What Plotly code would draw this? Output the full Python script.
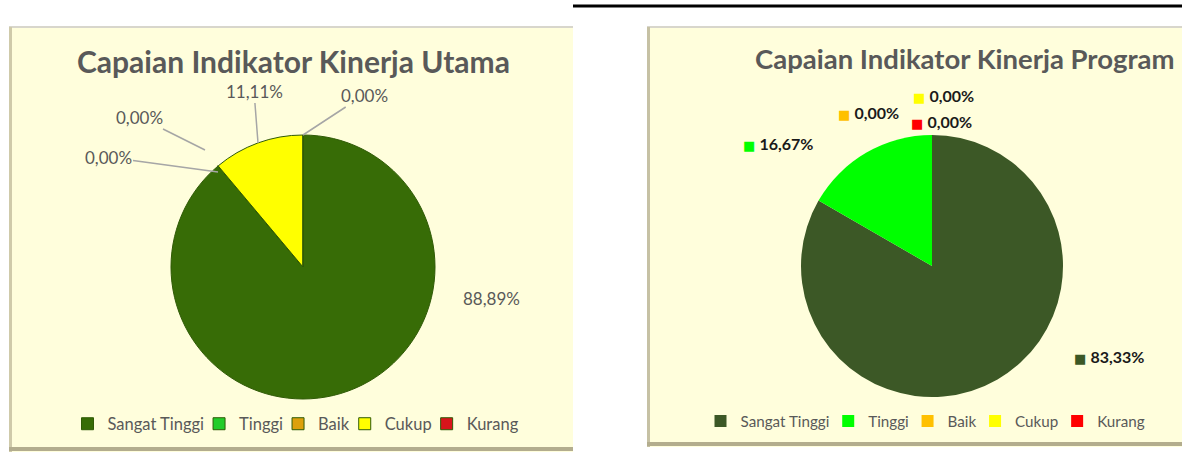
import plotly.graph_objects as go

W, H = 1182, 464

categories = ["Sangat Tinggi", "Tinggi", "Baik", "Cukup", "Kurang"]
iku_values = [88.89, 0.0, 0.0, 11.11, 0.0]
ikp_values = [83.33, 16.67, 0.0, 0.0, 0.0]
iku_colors = ["#376C06", "#22CC2A", "#DDA00C", "#FFFF00", "#D8141B"]
ikp_colors = ["#3C5826", "#00FF00", "#FFC000", "#FFFF00", "#FF0000"]
titles = ["Capaian Indikator Kinerja Utama", "Capaian Indikator Kinerja Program"]

FONT = "Lato, 'Open Sans', sans-serif"
GREY = "#595959"
PANEL = "#FFFEDC"


def px(x):
    return x / W


def py(y):
    return 1 - y / H


def fmt(v):
    return f"{v:.2f}".replace(".", ",") + "%"


fig = go.Figure()

# Left pie (IKU)
fig.add_trace(go.Pie(
    labels=categories, values=iku_values, sort=False, direction="clockwise",
    rotation=0, textinfo="none", hole=0,
    marker=dict(colors=iku_colors, line=dict(color="#2F5A06", width=1)),
    domain=dict(x=[px(171), px(435)], y=[py(399), py(135)]),
    legend="legend", name="IKU",
))
# Right pie (IKP) - labels carry a trailing space so they get their own legend entries
fig.add_trace(go.Pie(
    labels=[c + " " for c in categories], values=ikp_values, sort=False,
    direction="clockwise", rotation=0, textinfo="none", hole=0,
    marker=dict(colors=ikp_colors, line=dict(width=0)),
    domain=dict(x=[px(801), px(1063)], y=[py(397), py(135)]),
    legend="legend2", name="IKP",
))

shapes = []
# Top black rule
shapes.append(dict(type="line", xref="paper", yref="paper", x0=px(573), x1=px(1182),
                   y0=py(6), y1=py(6), line=dict(color="black", width=3), layer="below"))
# Left panel
shapes.append(dict(type="rect", xref="paper", yref="paper", x0=px(9), x1=px(573),
                   y0=py(452), y1=py(26), fillcolor=PANEL, line=dict(width=0), layer="below"))
shapes.append(dict(type="line", xref="paper", yref="paper", x0=px(9), x1=px(573),
                   y0=py(27), y1=py(27), line=dict(color="#D8D6CC", width=2), layer="below"))
shapes.append(dict(type="line", xref="paper", yref="paper", x0=px(10.5), x1=px(10.5),
                   y0=py(27), y1=py(452), line=dict(color="#CFCAAA", width=3), layer="below"))
shapes.append(dict(type="line", xref="paper", yref="paper", x0=px(9), x1=px(573),
                   y0=py(449), y1=py(449), line=dict(color="#B3AD8E", width=4), layer="below"))
# Right panel
shapes.append(dict(type="rect", xref="paper", yref="paper", x0=px(647), x1=px(1182),
                   y0=py(447), y1=py(26), fillcolor=PANEL, line=dict(width=0), layer="below"))
shapes.append(dict(type="line", xref="paper", yref="paper", x0=px(647), x1=px(1182),
                   y0=py(27), y1=py(27), line=dict(color="#D8D6CC", width=2), layer="below"))
shapes.append(dict(type="line", xref="paper", yref="paper", x0=px(648.5), x1=px(648.5),
                   y0=py(27), y1=py(447), line=dict(color="#C6C1A4", width=3), layer="below"))
shapes.append(dict(type="line", xref="paper", yref="paper", x0=px(647), x1=px(1182),
                   y0=py(444), y1=py(444), line=dict(color="#B3AD8E", width=4), layer="below"))

ann = []
# Titles
ann.append(dict(text=f"<b>{titles[0]}</b>", x=px(293), y=py(61), xref="paper", yref="paper",
                showarrow=False, font=dict(family=FONT, size=30, color=GREY),
                xanchor="center", yanchor="middle"))
ann.append(dict(text=f"<b>{titles[1]}</b>", x=px(965), y=py(58), xref="paper", yref="paper",
                showarrow=False, font=dict(family=FONT, size=27.5, color=GREY),
                xanchor="center", yanchor="middle"))

# Left data labels (with leader lines)
lab_font = dict(family=FONT, size=17, color=GREY)
left_label_pos = {
    0: ((491, 298), None),
    1: ((108, 157), (218, 172)),
    2: ((139, 117), (205, 150)),
    3: ((254, 91), (258, 143)),
    4: ((364, 95), (303, 135)),
}
for i, ((tx, ty), target) in left_label_pos.items():
    if target is None:
        ann.append(dict(text=fmt(iku_values[i]), x=px(tx), y=py(ty), xref="paper", yref="paper",
                        showarrow=False, font=lab_font, xanchor="center", yanchor="middle"))
    else:
        ann.append(dict(text=fmt(iku_values[i]), x=px(target[0]), y=py(target[1]),
                        xref="paper", yref="paper", showarrow=True, arrowhead=0,
                        arrowwidth=1.5, arrowcolor="#A6A6A6",
                        ax=tx - target[0], ay=ty - target[1], axref="pixel", ayref="pixel",
                        font=lab_font, xanchor="center", yanchor="middle"))

# Right data labels (legend-key style)
right_label_pos = {
    0: (1109, 356),
    1: (778, 143),
    2: (868, 113),
    3: (943, 95),
    4: (941, 121),
}
for i, (tx, ty) in right_label_pos.items():
    txt = (f"<span style='color:{ikp_colors[i]};font-family:DejaVu Sans;font-size:13px'>■</span> "
           f"<b>{fmt(ikp_values[i])}</b>")
    ann.append(dict(text=txt, x=px(tx), y=py(ty), xref="paper", yref="paper",
                    showarrow=False, font=dict(family=FONT, size=16, color="#1a1a1a"),
                    xanchor="center", yanchor="middle"))

leg_common = dict(orientation="h", xanchor="center", yanchor="middle",
                  bgcolor="rgba(0,0,0,0)", indentation=-10,
                  itemwidth=30, traceorder="normal", itemclick=False, itemdoubleclick=False)

fig.update_layout(
    width=W, height=H, autosize=False,
    margin=dict(l=0, r=0, t=0, b=0),
    paper_bgcolor="white", plot_bgcolor="white",
    showlegend=True,
    legend=dict(x=px(301), y=py(424), font=dict(family=FONT, size=16.5, color=GREY), **leg_common),
    legend2=dict(x=px(932), y=py(421), font=dict(family=FONT, size=15.2, color=GREY), **leg_common),
    shapes=shapes,
    annotations=ann,
)

fig.write_html(
    "out.html",
    config={"displayModeBar": False, "responsive": False},
    post_script=("document.documentElement.style.overflow='hidden';"
                 "document.body.style.margin='0px';"
                 "document.body.style.overflow='hidden';"),
)
